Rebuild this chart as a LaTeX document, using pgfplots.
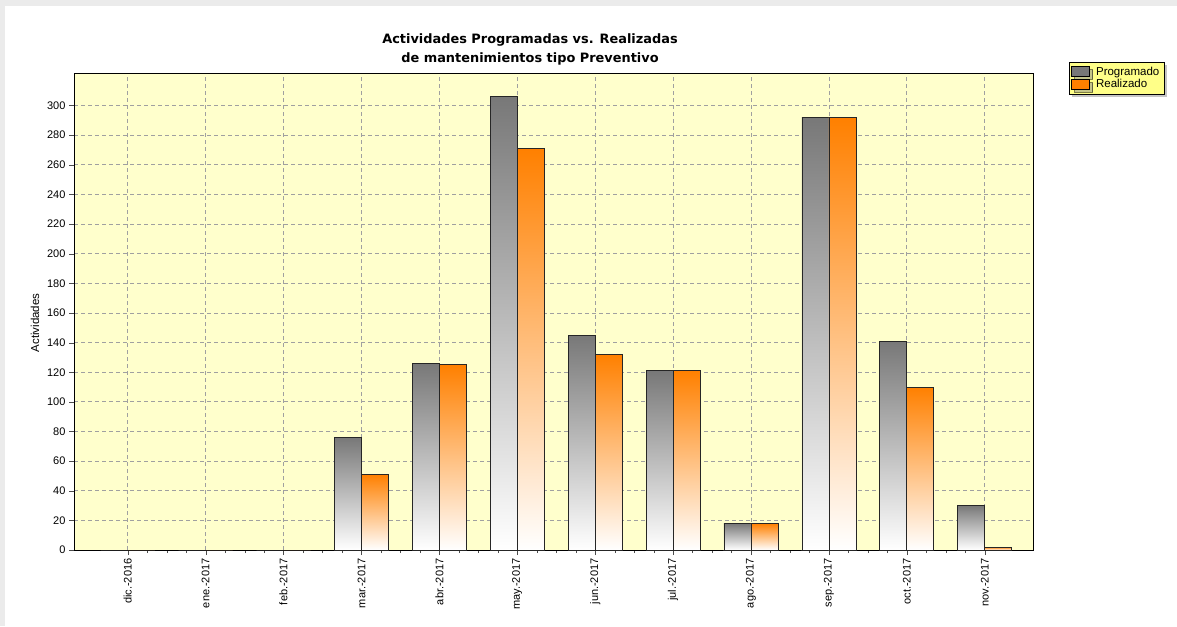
\documentclass[border=0pt]{standalone}
\usepackage{pgfplots}
\pgfplotsset{compat=1.18}
\usepackage{fontspec}
\setmainfont{Liberation Sans}
\newfontfamily\tfont{DejaVu Sans}
\usetikzlibrary{shadows}
\definecolor{bg}{RGB}{255,255,204}
\definecolor{grayTop}{RGB}{120,120,120}
\definecolor{orTop}{RGB}{255,128,0}
\definecolor{leg}{RGB}{255,255,136}
\definecolor{gridc}{RGB}{160,160,160}
\pgfplotsset{
  prog/.style={forget plot, draw=black!85, line width=0.8pt, top color=grayTop, bottom color=white},
  real/.style={forget plot, draw=black!85, line width=0.8pt, top color=orTop, bottom color=white},
  progz/.style={forget plot, draw=black!85, line width=0.8pt, fill=grayTop},
  realz/.style={forget plot, draw=black!85, line width=0.8pt, fill=orTop},
}
\begin{document}
\begin{tikzpicture}
\fill[white] (0,0) rectangle (1177pt,626pt);
\fill[black!8] (0,620pt) rectangle (1177pt,626pt);
\fill[black!8] (0,0) rectangle (5pt,626pt);
\begin{axis}[
  at={(74pt,76pt)}, anchor=south west,
  scale only axis, width=959pt, height=477pt,
  xmin=-0.69, xmax=11.62, ymin=0, ymax=322,
  ybar=0pt, bar width=27pt,
  every axis plot post/.append style={bar shift=0pt},
  axis background/.style={fill=bg},
  axis line style={black, line width=0.9pt},
  xtick={0,...,11},
  xticklabels={dic.-2016,ene.-2017,feb.-2017,mar.-2017,abr.-2017,may.-2017,jun.-2017,jul.-2017,ago.-2017,sep.-2017,oct.-2017,nov.-2017},
  minor x tick num=3,
  x tick label style={rotate=90, anchor=east, font=\fontsize{11}{12}\selectfont},
  ytick={0,20,...,300},
  y tick label style={font=\fontsize{11}{12}\selectfont},
  /pgf/number format/assume math mode=true,
  tick pos=left,
  tick align=outside,
  major tick length=5pt, minor tick length=3pt,
  tick style={black!70},
  grid=major,
  major grid style={gridc, line width=0.8pt, dash pattern=on 4pt off 3pt},
  ylabel={Actividades},
  ylabel style={at={(axis description cs:-0.0407,0.476)}, anchor=center, font=\fontsize{11.5}{12}\selectfont},
  title={Actividades Programadas vs. Realizadas\\de mantenimientos tipo Preventivo},
  title style={at={(axis description cs:0.4755,1)}, anchor=south, yshift=-2pt, align=center, font=\tfont\bfseries\fontsize{12.9}{19}\selectfont},
  legend style={at={(axis description cs:1.037,1.023)}, anchor=north west, fill=leg, draw=black, line width=0.6pt,
    font=\fontsize{11.5}{12}\selectfont, drop shadow={shadow xshift=3pt, shadow yshift=-3pt, fill=black!45},
    row sep=-1pt, inner sep=2.5pt,
    /tikz/every odd column/.append style={column sep=4pt}},
  legend cell align=left,
]
% Programado (offset -0.1733), Realizado (offset +0.1733)
\addplot[progz] coordinates {(-0.1733,0)};
\addplot[realz] coordinates {(0.1733,0)};
\addplot[progz] coordinates {(0.8267,0)};
\addplot[realz] coordinates {(1.1733,0)};
\addplot[progz] coordinates {(1.8267,0)};
\addplot[realz] coordinates {(2.1733,0)};
\addplot[prog] coordinates {(2.8267,76)};
\addplot[real] coordinates {(3.1733,51)};
\addplot[prog] coordinates {(3.8267,126)};
\addplot[real] coordinates {(4.1733,125)};
\addplot[prog] coordinates {(4.8267,306)};
\addplot[real] coordinates {(5.1733,271)};
\addplot[prog] coordinates {(5.8267,145)};
\addplot[real] coordinates {(6.1733,132)};
\addplot[prog] coordinates {(6.8267,121)};
\addplot[real] coordinates {(7.1733,121)};
\addplot[prog] coordinates {(7.8267,18)};
\addplot[real] coordinates {(8.1733,18)};
\addplot[prog] coordinates {(8.8267,292)};
\addplot[real] coordinates {(9.1733,292)};
\addplot[prog] coordinates {(9.8267,141)};
\addplot[real] coordinates {(10.1733,110)};
\addplot[prog] coordinates {(10.8267,30)};
\addplot[real] coordinates {(11.1733,2)};
\addlegendimage{legend image code/.code={\draw[fill=grayTop, draw=black, line width=0.8pt] (0pt,-4.5pt) rectangle (18pt,5pt);}}
\addlegendimage{legend image code/.code={\draw[fill=orTop, draw=black, line width=0.8pt] (0pt,-4.5pt) rectangle (18pt,5pt);}}
\legend{Programado,Realizado}
\end{axis}
\end{tikzpicture}
\end{document}
